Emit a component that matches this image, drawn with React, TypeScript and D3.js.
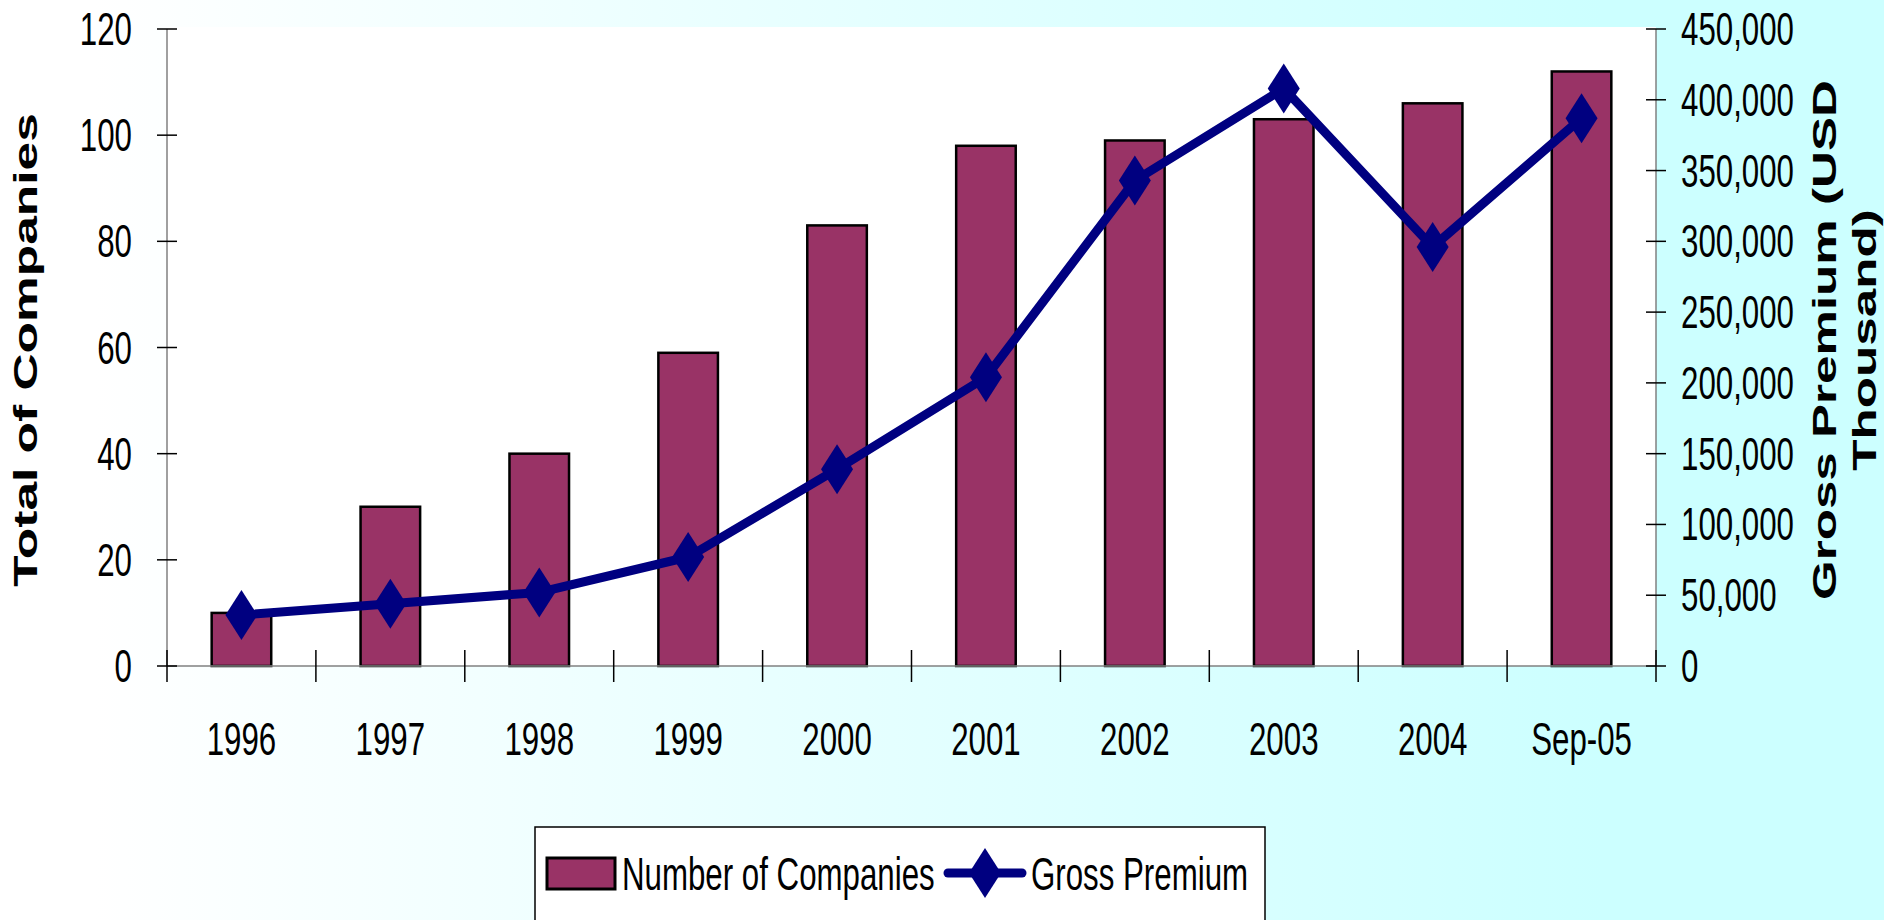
import { useEffect, useRef } from 'react';
import * as d3 from 'd3';

const years = ['1996', '1997', '1998', '1999', '2000', '2001', '2002', '2003', '2004', 'Sep-05'];
const companies = [10, 30, 40, 59, 83, 98, 99, 103, 106, 112];
const premium = [36000, 44000, 52000, 77000, 139000, 204000, 343000, 408000, 296000, 387000];
const leftTicks = [0, 20, 40, 60, 80, 100, 120];
const rightTicks = [0, 50000, 100000, 150000, 200000, 250000, 300000, 350000, 400000, 450000];

const W = 1884;
const H = 920;
const FONT = '"Liberation Sans", Arial, sans-serif';
const SX = 0.665; // the picture is stretched vertically, so text looks narrow

export default function App() {
  const svgRef = useRef<SVGSVGElement>(null);

  useEffect(() => {
    const svg = d3.select(svgRef.current);
    svg.selectAll('*').remove();

    const left = 167, right = 1656, top = 29, bottom = 666;

    const x = d3.scaleBand().domain(years).range([left, right]).padding(0);
    const yL = d3.scaleLinear().domain([0, 120]).range([bottom, top]);
    const yR = d3.scaleLinear().domain([0, 450000]).range([bottom, top]);
    const bw = x.bandwidth();
    const cx = (d: string) => (x(d) ?? 0) + bw / 2;

    // background
    const grad = svg.append('defs').append('linearGradient')
      .attr('id', 'bg').attr('x1', 0).attr('x2', 1).attr('y1', 0).attr('y2', 0);
    grad.append('stop').attr('offset', '5%').attr('stop-color', '#ffffff');
    grad.append('stop').attr('offset', '85%').attr('stop-color', '#ccffff');
    svg.append('rect').attr('width', W).attr('height', H).attr('fill', 'url(#bg)');

    // plot area
    svg.append('rect')
      .attr('x', left).attr('y', top - 2)
      .attr('width', right - left).attr('height', bottom - top + 2)
      .attr('fill', '#ffffff');

    // bars
    svg.append('g').selectAll('rect')
      .data(companies)
      .join('rect')
      .attr('x', (_, i) => cx(years[i]) - bw * 0.2)
      .attr('y', d => yL(d))
      .attr('width', bw * 0.4)
      .attr('height', d => bottom - yL(d))
      .attr('fill', '#993366')
      .attr('stroke', '#000')
      .attr('stroke-width', 2.5);

    // axis lines
    const axes = svg.append('g').attr('stroke', '#808080').attr('stroke-width', 1.5);
    axes.append('line').attr('x1', left).attr('x2', left).attr('y1', top).attr('y2', bottom);
    axes.append('line').attr('x1', right).attr('x2', right).attr('y1', top).attr('y2', bottom);
    axes.append('line').attr('x1', left).attr('x2', right).attr('y1', bottom).attr('y2', bottom);

    // ticks
    const ticks = svg.append('g').attr('stroke', '#000').attr('stroke-width', 1.5);
    ticks.selectAll('.lt').data(leftTicks).join('line')
      .attr('x1', left - 10).attr('x2', left + 10)
      .attr('y1', d => yL(d)).attr('y2', d => yL(d));
    ticks.selectAll('.rt').data(rightTicks).join('line')
      .attr('x1', right - 10).attr('x2', right + 10)
      .attr('y1', d => yR(d)).attr('y2', d => yR(d));
    ticks.selectAll('.xt').data(d3.range(years.length + 1)).join('line')
      .attr('x1', i => left + i * bw).attr('x2', i => left + i * bw)
      .attr('y1', bottom - 16).attr('y2', bottom + 16);

    // tick labels
    const lab = svg.append('g').attr('font-family', FONT).attr('font-size', 47).attr('fill', '#000');
    lab.selectAll('.ll').data(leftTicks).join('text')
      .attr('transform', d => `translate(${left - 35},${yL(d) + 16}) scale(${SX},1)`)
      .attr('text-anchor', 'end')
      .text(d => d);
    lab.selectAll('.rl').data(rightTicks).join('text')
      .attr('transform', d => `translate(${right + 25},${yR(d) + 16}) scale(${SX},1)`)
      .attr('text-anchor', 'start')
      .text(d => d3.format(',')(d));
    lab.selectAll('.xl').data(years).join('text')
      .attr('transform', d => `translate(${cx(d)},755) scale(${SX},1)`)
      .attr('text-anchor', 'middle')
      .text(d => d);

    // premium line
    const line = d3.line<number>()
      .x((_, i) => cx(years[i]))
      .y(d => yR(d));
    svg.append('path')
      .datum(premium)
      .attr('d', line)
      .attr('fill', 'none')
      .attr('stroke', '#000080')
      .attr('stroke-width', 9)
      .attr('stroke-linejoin', 'round');

    const diamond = 'M0,-25L16,0L0,25L-16,0Z';
    svg.append('g').selectAll('path')
      .data(premium)
      .join('path')
      .attr('d', diamond)
      .attr('transform', (d, i) => `translate(${cx(years[i])},${yR(d)})`)
      .attr('fill', '#000080');

    // axis titles
    const titles = svg.append('g')
      .attr('font-family', FONT).attr('font-size', 33).attr('font-weight', 'bold')
      .attr('text-anchor', 'middle').attr('fill', '#000');
    titles.append('text')
      .attr('transform', 'translate(37,350) scale(1,1.56) rotate(-90)')
      .text('Total of Companies');
    titles.append('text')
      .attr('transform', 'translate(1836,340) scale(1,1.55) rotate(-90)')
      .text('Gross Premium (USD');
    titles.append('text')
      .attr('transform', 'translate(1876,340) scale(1,1.55) rotate(-90)')
      .text('Thousand)');

    // legend
    const lg = svg.append('g');
    lg.append('rect')
      .attr('x', 535).attr('y', 827).attr('width', 730).attr('height', 120)
      .attr('fill', '#ffffff').attr('stroke', '#000').attr('stroke-width', 1.5);
    lg.append('rect')
      .attr('x', 547).attr('y', 858).attr('width', 68).attr('height', 31)
      .attr('fill', '#993366').attr('stroke', '#000').attr('stroke-width', 3);
    lg.append('text')
      .attr('transform', `translate(622,890) scale(${SX},1)`)
      .attr('font-family', FONT).attr('font-size', 47)
      .text('Number of Companies');
    lg.append('line')
      .attr('x1', 948).attr('x2', 1022).attr('y1', 873).attr('y2', 873)
      .attr('stroke', '#000080').attr('stroke-width', 9).attr('stroke-linecap', 'round');
    lg.append('path')
      .attr('d', diamond)
      .attr('transform', 'translate(985,873)')
      .attr('fill', '#000080');
    lg.append('text')
      .attr('transform', `translate(1031,890) scale(${SX},1)`)
      .attr('font-family', FONT).attr('font-size', 47)
      .text('Gross Premium');
  }, []);

  return (
    <div style={{ position: 'absolute', left: 0, top: 0 }}>
      <svg ref={svgRef} width={W} height={H} />
    </div>
  );
}
